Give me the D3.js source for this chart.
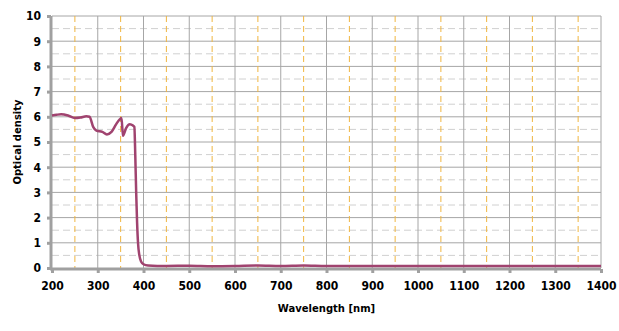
<!DOCTYPE html>
<html>
<head>
  <meta charset="utf-8">
  <script src="https://d3js.org/d3.v7.min.js"></script>
  <style>
    body { margin: 0; background: #fff; }
    .tick text { font-family: "Liberation Sans Narrow", "DejaVu Sans Condensed", sans-serif; font-stretch: condensed; font-weight: bold; font-size: 12px; fill: #000; }
    .title { font-family: "DejaVu Sans", Verdana, sans-serif; font-weight: bold; font-size: 10px; }
  </style>
</head>
<body>
<div id="chart"></div>
<script>
    var width = 619;
    var height = 331;

    // curve, wavelength in nm
    var wavelength = [200, 210, 220, 235, 250, 262, 275, 282, 290, 297, 310, 320, 330, 340, 348, 352,
                      355, 362, 370, 377, 380, 382, 384, 386, 388, 391, 395, 400, 410, 450, 500, 550,
                      600, 650, 700, 750, 800, 900, 1000, 1100, 1200, 1300, 1400];
    var density = [6.05, 6.08, 6.1, 6.05, 5.95, 5.97, 6.02, 6.0, 5.6, 5.45, 5.4, 5.3, 5.4, 5.7, 5.9, 5.95,
                   5.25, 5.55, 5.7, 5.65, 5.6, 4.5, 3.0, 1.8, 1.0, 0.5, 0.25, 0.15, 0.1, 0.08, 0.09, 0.07,
                   0.08, 0.1, 0.08, 0.1, 0.08, 0.08, 0.08, 0.08, 0.08, 0.08, 0.08];

    var xTicks = [200, 300, 400, 500, 600, 700, 800, 900, 1000, 1100, 1200, 1300, 1400];
    var yTicks = [0, 1, 2, 3, 4, 5, 6, 7, 8, 9, 10];
    var orangeLines = [250, 350, 450, 550, 650, 750, 850, 950, 1050, 1150, 1250, 1350];
    var halfLines = [0.5, 1.5, 2.5, 3.5, 4.5, 5.5, 6.5, 7.5, 8.5, 9.5];

    var pLeft = 52, pRight = 601, pTop = 16, pBottom = 268;

    var x = d3.scaleLinear().domain([200, 1400]).range([pLeft, pRight]);
    var y = d3.scaleLinear().domain([0, 10]).range([pBottom, pTop]);

    var svg = d3.select("#chart").append("svg")
                .attr("width", width)
                .attr("height", height);

    // dashed half-unit lines
    svg.selectAll(".half").data(halfLines).enter().append("line")
       .attr("x1", pLeft).attr("x2", pRight)
       .attr("y1", function(d) { return y(d); }).attr("y2", function(d) { return y(d); })
       .attr("stroke", "#d0d0d0").attr("stroke-dasharray", "7,4");

    // solid grid
    svg.selectAll(".hg").data(yTicks.slice(1)).enter().append("line")
       .attr("x1", pLeft).attr("x2", pRight)
       .attr("y1", function(d) { return y(d); }).attr("y2", function(d) { return y(d); })
       .attr("stroke", "#a6a6a6");
    svg.selectAll(".vg").data(xTicks.slice(1)).enter().append("line")
       .attr("y1", pTop).attr("y2", pBottom)
       .attr("x1", function(d) { return x(d); }).attr("x2", function(d) { return x(d); })
       .attr("stroke", "#a6a6a6");

    // orange dashed verticals
    svg.selectAll(".og").data(orangeLines).enter().append("line")
       .attr("y1", pTop).attr("y2", pBottom)
       .attr("x1", function(d) { return x(d); }).attr("x2", function(d) { return x(d); })
       .attr("stroke", "#f0b640").attr("stroke-dasharray", "6,4");

    // axes
    var xAxis = d3.axisBottom(x).tickValues(xTicks).tickFormat(d3.format("d")).tickSize(4).tickPadding(8);
    var yAxis = d3.axisLeft(y).tickValues(yTicks).tickFormat(d3.format("d")).tickSize(4).tickPadding(6);

    var gx = svg.append("g").attr("transform", "translate(0," + (pBottom + 1) + ")").call(xAxis);
    var gy = svg.append("g").attr("transform", "translate(" + (pLeft - 1) + ",0)").call(yAxis);
    [gx, gy].forEach(function(g) {
      g.select(".domain").attr("stroke", "#a0a0a0").attr("stroke-width", 3);
      g.selectAll(".tick line").attr("stroke", "#a0a0a0").attr("stroke-width", 3);
    });
    gx.select(".domain").attr("d", "M" + (pLeft - 2) + ",0H" + pRight);
    gy.select(".domain").attr("d", "M0," + pTop + "V" + (pBottom + 2));

    // curve
    var line = d3.line()
                 .x(function(d, i) { return x(wavelength[i]); })
                 .y(function(d) { return y(d); })
                 .curve(d3.curveMonotoneX);
    svg.append("path").datum(density)
       .attr("d", line)
       .attr("fill", "none")
       .attr("stroke", "#a0436f")
       .attr("stroke-width", 2.5)
       .attr("stroke-linejoin", "round");

    svg.append("text").attr("class", "title")
       .attr("x", (pLeft + pRight) / 2).attr("y", 312)
       .attr("text-anchor", "middle").text("Wavelength [nm]");
    svg.append("text").attr("class", "title")
       .attr("transform", "translate(21," + ((pTop + pBottom) / 2) + ") rotate(-90)")
       .attr("text-anchor", "middle").text("Optical density");
</script>
</body>
</html>
